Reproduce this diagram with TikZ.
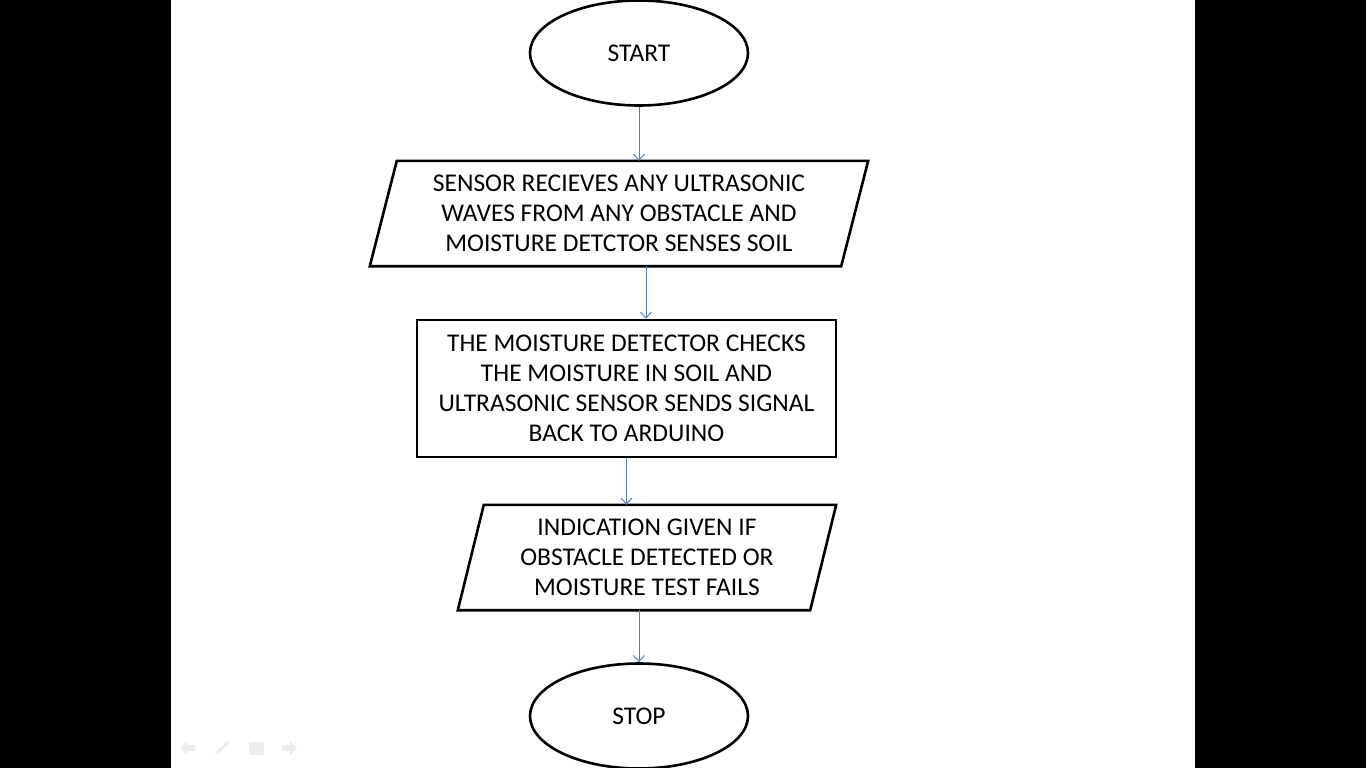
\documentclass[tikz,border=0pt]{standalone}
\usepackage{fontspec}
\setmainfont{Carlito}
\usetikzlibrary{shapes.geometric,arrows.meta}
\begin{document}
\begin{tikzpicture}[x=1pt,y=-1pt,
  edge/.style={draw=black,line width=2.6pt,line join=miter},
  txt/.style={align=center,inner sep=0pt,font=\fontsize{25.5}{30}\selectfont},
  box/.style={txt,edge},
  term/.style={box,ellipse,minimum width=218pt,minimum height=105pt},
  io/.style={txt,minimum height=105pt},
  proc/.style={box,rectangle,minimum width=419pt,minimum height=137pt},
  flow/.style={draw={rgb,255:red,79;green,129;blue,189},line width=1pt,
    -{Straight Barb[length=6pt,width=11pt]}},
  navicon/.style={fill=black!7,draw=none}]
\useasboundingbox (0,0) rectangle (1366,768);
\fill[black] (0,0) rectangle (171,768);
\fill[black] (1195,0) rectangle (1366,768);
\fill[white] (171,0) rectangle (1195,768);

\node[term] (start) at (639,53) {START};
\node[io,minimum width=471pt] (in) at (619,213.5) {SENSOR RECIEVES ANY ULTRASONIC\\WAVES FROM ANY OBSTACLE AND\\MOISTURE DETCTOR SENSES SOIL};
\draw[edge] ([xshift=13.5pt]in.north west) -- ([xshift=13.5pt]in.north east)
  -- ([xshift=-13.5pt]in.south east) -- ([xshift=-13.5pt]in.south west) -- cycle;
\node[proc] (chk) at (626.5,388.5) {THE MOISTURE DETECTOR CHECKS\\THE MOISTURE IN SOIL AND\\ULTRASONIC SENSOR SENDS SIGNAL\\BACK TO ARDUINO};
\node[io,minimum width=352pt] (ind) at (647,557.5) {INDICATION GIVEN IF\\OBSTACLE DETECTED OR\\MOISTURE TEST FAILS};
\draw[edge] ([xshift=13pt]ind.north west) -- ([xshift=13pt]ind.north east)
  -- ([xshift=-13pt]ind.south east) -- ([xshift=-13pt]ind.south west) -- cycle;
\node[term] (stop) at (639,716) {STOP};

\draw[flow] (start.south) -- (start.south |- in.north);
\draw[flow] ([xshift=27pt]in.south) -- ([xshift=27pt]in.south |- chk.north);
\draw[flow] (chk.south) -- (chk.south |- ind.north);
\draw[flow] ([xshift=-8pt]ind.south) -- ([xshift=-8pt]ind.south |- stop.north);

% faint slide-show controls
\fill[navicon] (180,748) -- (187,741) -- (187,745) -- (195,745) -- (195,751) -- (187,751) -- (187,755) -- cycle;
\fill[navicon] (215,755) -- (217,751) -- (227,741) -- (229,743) -- (219,753) -- cycle;
\fill[navicon] (249,742) rectangle (264,755);
\fill[navicon] (297,748) -- (290,741) -- (290,745) -- (282,745) -- (282,751) -- (290,751) -- (290,755) -- cycle;
\end{tikzpicture}
\end{document}
